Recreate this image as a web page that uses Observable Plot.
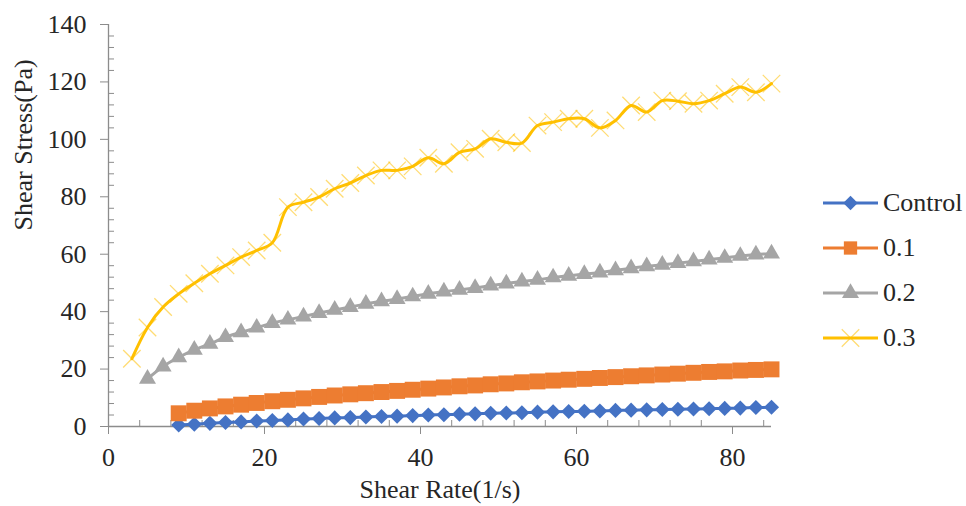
<!DOCTYPE html>
<html><head><meta charset="utf-8">
<script src="https://cdn.jsdelivr.net/npm/d3@7"></script>
<script src="https://cdn.jsdelivr.net/npm/@observablehq/plot@0.6"></script>
<style>
body{margin:0;background:#fff;}
#wrap{position:relative;width:966px;height:506px;font-family:"Liberation Serif","Times New Roman",Times,serif;}
#legend{position:absolute;left:822px;top:0;}
.row{position:absolute;left:0;display:flex;align-items:center;height:30px;white-space:nowrap;font-size:26px;color:#262626;font-family:"Liberation Serif","Times New Roman",Times,serif;}
.row svg{margin-right:3px;}
svg text{font-family:"Liberation Serif","Times New Roman",Times,serif;}
</style></head><body><div id="wrap"><div id="chart"></div><div id="legend"></div></div>
<script>
// Series names and colors
const seriesNames = ["Control", "0.1", "0.2", "0.3"];
const seriesColors = ["#4472C4", "#ED7D31", "#A5A5A5", "#FFC000"];

// Shear rates (1/s)
const rateControl = [9,11,13,15,17,19,21,23,25,27,29,31,33,35,37,39,41,43,45,47,49,51,53,55,57,59,61,63,65,67,69,71,73,75,77,79,81,83,85];
const rate01 = [9,11,13,15,17,19,21,23,25,27,29,31,33,35,37,39,41,43,45,47,49,51,53,55,57,59,61,63,65,67,69,71,73,75,77,79,81,83,85];
const rate02 = [5,7,9,11,13,15,17,19,21,23,25,27,29,31,33,35,37,39,41,43,45,47,49,51,53,55,57,59,61,63,65,67,69,71,73,75,77,79,81,83,85];
const rate03 = [3,5,7,9,11,13,15,17,19,21,23,25,27,29,31,33,35,37,39,41,43,45,47,49,51,53,55,57,59,61,63,65,67,69,71,73,75,77,79,81,83,85];

// Shear stress (Pa)
const stressControl = [0.5,0.8,1.1,1.4,1.6,1.9,2.1,2.3,2.6,2.8,3.0,3.1,3.3,3.5,3.6,3.8,4.0,4.1,4.3,4.4,4.6,4.7,4.8,5.0,5.1,5.2,5.3,5.4,5.6,5.7,5.8,5.9,6.0,6.1,6.2,6.3,6.4,6.6,6.7];
const stress01 = [4.6,5.5,6.3,7.0,7.6,8.2,8.8,9.3,9.8,10.3,10.8,11.2,11.6,12.0,12.4,12.8,13.2,13.6,14.0,14.3,14.7,15.0,15.4,15.7,16.0,16.3,16.6,16.9,17.2,17.5,17.8,18.1,18.4,18.7,19.0,19.2,19.5,19.7,19.9];
const stress02 = [16.6,20.9,24.1,26.7,28.8,31.1,32.8,34.4,36.0,37.2,38.3,39.5,40.6,41.6,42.7,43.6,44.4,45.3,46.2,47.0,47.6,48.2,49.1,49.8,50.5,51.1,51.9,52.5,53.1,53.6,54.4,55.1,55.8,56.3,56.9,57.5,58.1,58.7,59.4,59.9,60.2];
const stress03 = [23.6,34.5,41.6,46.2,49.9,53.2,56.1,59.0,61.3,64.0,76.4,78.1,79.9,82.8,84.8,87.4,89.2,89.2,90.6,93.6,91.5,95.5,96.7,100.2,99.0,98.7,104.8,106.0,107.2,107.2,104.0,106.6,111.8,109.5,113.5,113.3,112.4,113.5,115.9,118.2,116.4,119.4];

// Axis ticks
const xTicks = [0,20,40,60,80];
const xMinor = [4,8,12,16,24,28,32,36,44,48,52,56,64,68,72,76,84];
const yTicks = [0,20,40,60,80,100,120,140];
const yMinor = [4,8,12,16,24,28,32,36,44,48,52,56,64,68,72,76,84,88,92,96,104,108,112,116,124,128,132,136];

const xTitle = "Shear Rate(1/s)";
const yTitle = "Shear Stress(Pa)";

const toRows = (xs, ys) => xs.map((x, i) => ({x, y: ys[i]}));
const dControl = toRows(rateControl, stressControl);
const d01 = toRows(rate01, stress01);
const d02 = toRows(rate02, stress02);
const d03 = toRows(rate03, stress03);

const axisColor = "#8c8c8c";
const textColor = "#262626";
const font = "'Liberation Serif', 'Times New Roman', Times, serif";

const chart = Plot.plot({
  width: 966, height: 506,
  marginLeft: 108, marginRight: 195, marginTop: 24, marginBottom: 80,
  style: {fontFamily: font, fontSize: "26px", background: "#fff", overflow: "visible"},
  x: {domain: [0, 85]},
  y: {domain: [0, 140]},
  marks: [
    Plot.axisY(yTicks, {tickSize: 8, tickPadding: 14, fontSize: 26, stroke: axisColor, fill: textColor, label: null}),
    Plot.axisY(yMinor, {tickSize: 6, dx: 6, text: null, stroke: axisColor, label: null}),
    Plot.axisX(xTicks, {tickSize: 8, tickPadding: 13, fontSize: 26, stroke: axisColor, fill: textColor, label: null}),
    Plot.axisX(xMinor, {tickSize: 6, dy: -6, text: null, stroke: axisColor, label: null}),
    Plot.ruleY([0], {stroke: axisColor, strokeWidth: 1.3}),
    Plot.ruleX([0], {stroke: axisColor, strokeWidth: 1.3}),
    Plot.text([xTitle], {frameAnchor: "bottom", dy: 71, fontSize: 26, fill: textColor}),
    Plot.text([yTitle], {frameAnchor: "left", dx: -85, dy: 5, rotate: -90, fontSize: 26, fill: textColor}),
    // Control
    Plot.line(dControl, {x: "x", y: "y", stroke: seriesColors[0], strokeWidth: 3, curve: "catmull-rom"}),
    Plot.dot(dControl, {x: "x", y: "y", symbol: "diamond2", r: 6.8, fill: seriesColors[0], stroke: "none"}),
    // 0.1
    Plot.line(d01, {x: "x", y: "y", stroke: seriesColors[1], strokeWidth: 3, curve: "catmull-rom"}),
    Plot.dot(d01, {x: "x", y: "y", symbol: "square", r: 9, fill: seriesColors[1], stroke: "none"}),
    // 0.2
    Plot.line(d02, {x: "x", y: "y", stroke: seriesColors[2], strokeWidth: 3, curve: "catmull-rom"}),
    Plot.dot(d02, {x: "x", y: "y", symbol: "triangle", r: 6.3, fill: seriesColors[2], stroke: "none"}),
    // 0.3
    Plot.line(d03, {x: "x", y: "y", stroke: seriesColors[3], strokeWidth: 3, curve: "catmull-rom"}),
    Plot.dot(d03, {x: "x", y: "y", symbol: "times", r: 8, stroke: seriesColors[3], strokeOpacity: 0.55, strokeWidth: 1.3})
  ]
});
document.getElementById("chart").appendChild(chart);

// Legend
const legendSymbols = [d3.symbolDiamond2, d3.symbolSquare, d3.symbolTriangle, d3.symbolTimes];
const legendR = [6.5, 7.5, 6.3, 8];
const legend = d3.select("#legend");
seriesNames.forEach((name, i) => {
  const row = legend.append("div").attr("class", "row").style("top", (188 + i * 45) + "px");
  const svg = row.append("svg").attr("width", 58).attr("height", 30);
  svg.append("line").attr("x1", 1).attr("x2", 56).attr("y1", 15).attr("y2", 15)
    .attr("stroke", seriesColors[i]).attr("stroke-width", 3);
  const p = svg.append("path").attr("transform", "translate(28.5,15)")
    .attr("d", d3.symbol(legendSymbols[i], legendR[i] * legendR[i] * Math.PI)());
  if (i === 3) p.attr("fill", "none").attr("stroke", seriesColors[i]).attr("stroke-opacity", 0.55).attr("stroke-width", 1.3);
  else p.attr("fill", seriesColors[i]);
  row.append("span").text(name);
});
</script>
</body></html>
